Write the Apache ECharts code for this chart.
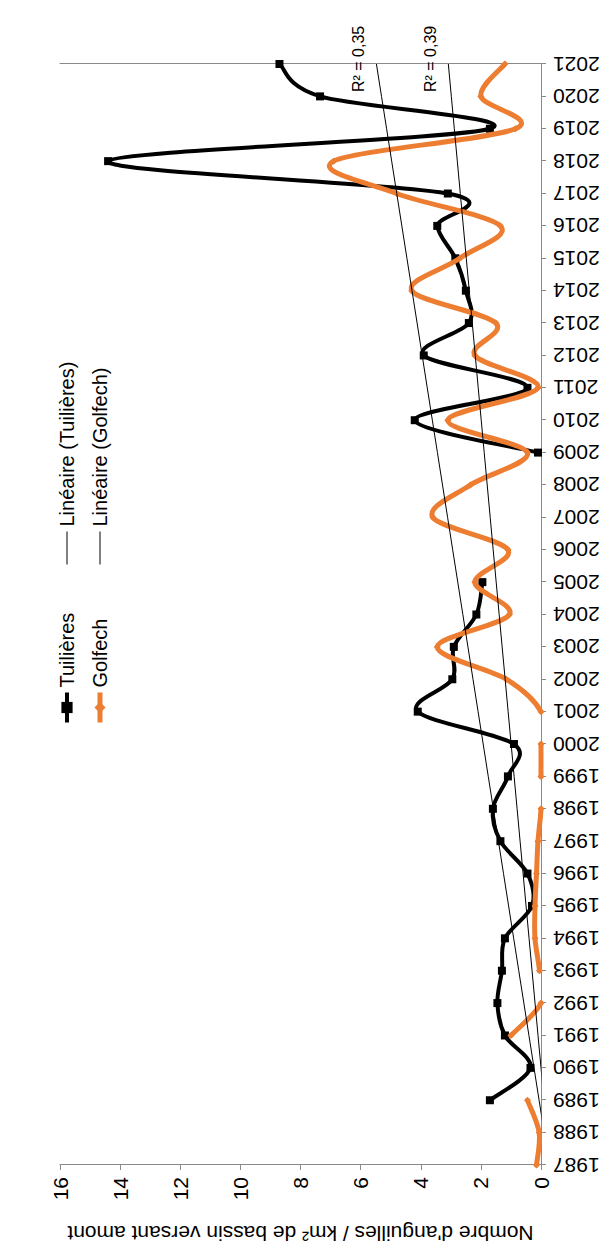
<!DOCTYPE html>
<html>
<head>
<meta charset="utf-8">
<script src="https://cdn.jsdelivr.net/npm/echarts@6/dist/echarts.min.js"></script>
<style>
  html, body { margin: 0; padding: 0; background: #fff; overflow: hidden; }
  #wrap { position: absolute; left: 0; top: 0; width: 606px; height: 1254px; overflow: hidden; }
  #chart {
    position: absolute; left: 0; top: 0;
    width: 1254px; height: 606px;
    transform-origin: 0 0;
    transform: translate(0, 1254px) rotate(-90deg);
  }
</style>
</head>
<body>
<div id="wrap"><div id="chart"></div></div>
<script>
// ---- data ----
const years = ['1987','1988','1989','1990','1991','1992','1993','1994','1995','1996','1997','1998','1999','2000','2001','2002','2003','2004','2005','2006','2007','2008','2009','2010','2011','2012','2013','2014','2015','2016','2017','2018','2019','2020','2021'];
const tuilieres = [null,null,1.7,0.35,1.2,1.45,1.3,1.2,0.3,0.45,1.35,1.6,1.1,0.9,4.1,2.95,2.9,2.15,1.95,null,null,null,0.1,4.2,0.45,3.9,2.4,2.5,2.85,3.45,3.1,14.4,1.7,7.35,8.7];
const golfech = [0.15,0.06,0.45,null,1.0,0,0.05,0.2,0.2,0.15,0.1,0,0,0,0,1.15,3.45,1.05,2.2,1.1,3.6,2.35,0.45,3.1,0.1,2.2,1.5,4.3,2.7,1.35,4.8,6.9,0.85,2.0,1.2];
const seriesNames = ['Tuilières','Golfech'];
const trendNames = ['Linéaire (Tuilières)','Linéaire (Golfech)'];
const r2Labels = ['R² = 0,35','R² = 0,39'];
const valueMin = 0, valueMax = 16, valueStep = 2;
const axisTitle = "Nombre d'anguilles / km² de bassin versant amont";

// linear regression over the category index (as a spreadsheet trendline does)
function linearTrend(vals) {
  const pts = [];
  vals.forEach((v, i) => { if (v !== null) pts.push([i + 1, v]); });
  const n = pts.length;
  const mx = pts.reduce((s, p) => s + p[0], 0) / n;
  const my = pts.reduce((s, p) => s + p[1], 0) / n;
  let sxy = 0, sxx = 0;
  pts.forEach(p => { sxy += (p[0] - mx) * (p[1] - my); sxx += (p[0] - mx) * (p[0] - mx); });
  const b = sxy / sxx, a = my - b * mx;
  return vals.map((_, i) => +(a + b * (i + 1)).toFixed(4));
}
const trendT = linearTrend(tuilieres);
const trendG = linearTrend(golfech);

const FONT = "'Liberation Sans', Arial, sans-serif";
const AXIS_COLOR = '#8a8a8a';
const ORANGE = '#ED7D31';

// Spreadsheet-style smoothed line: cubic Bezier per segment (Catmull-Rom, 1/6 tangents),
// positioned through the chart's own scales; a segment leaving the value range is not drawn.
function smoothCurveSeries(vals, color, width, z) {
  const n = vals.length;
  const ok = k => k >= 0 && k < n && vals[k] !== null;
  return {
    type: 'custom', name: '_curve_' + color, coordinateSystem: 'cartesian2d',
    silent: true, z: z, itemStyle: { color: color },
    data: vals.map((v, i) => [i, v === null ? '-' : v]),
    encode: { x: 0, y: 1 },
    renderItem: function (params, api) {
      const i = params.dataIndex;
      if (!ok(i) || !ok(i + 1)) return null;
      const a = ok(i - 1) ? i - 1 : i;
      const d = ok(i + 2) ? i + 2 : i + 1;
      const y1 = vals[i], y2 = vals[i + 1];
      const c1 = y1 + (y2 - vals[a]) / 6;
      const c2 = y2 - (vals[d] - y1) / 6;
      for (let s = 0; s <= 60; s++) {
        const t = s / 60, u = 1 - t;
        const y = u * u * u * y1 + 3 * u * u * t * c1 + 3 * u * t * t * c2 + t * t * t * y2;
        if (y < valueMin - 1e-9 || y > valueMax + 1e-9) return null;
      }
      const P0 = api.coord([a, vals[a]]);
      const P1 = api.coord([i, y1]);
      const P2 = api.coord([i + 1, y2]);
      const P3 = api.coord([d, vals[d]]);
      return {
        type: 'bezierCurve',
        shape: {
          x1: P1[0], y1: P1[1], x2: P2[0], y2: P2[1],
          cpx1: P1[0] + (P2[0] - P0[0]) / 6, cpy1: P1[1] + (P2[1] - P0[1]) / 6,
          cpx2: P2[0] - (P3[0] - P1[0]) / 6, cpy2: P2[1] - (P3[1] - P1[1]) / 6
        },
        style: { stroke: color, lineWidth: width, fill: 'none', lineCap: 'round', lineJoin: 'round' }
      };
    }
  };
}

function markerSeries(name, vals, symbol, size, color, width, z) {
  return {
    name: name, type: 'line', data: vals, connectNulls: false,
    symbol: symbol, symbolSize: size, showSymbol: true, showAllSymbol: true,
    lineStyle: { color: color, width: width, opacity: 0 }, itemStyle: { color: color },
    emphasis: { disabled: true }, z: z
  };
}

function trendSeries(name, data, label, dy) {
  return {
    name: name, type: 'line', data: data, symbol: 'none', smooth: false,
    lineStyle: { color: '#000', width: 1 }, itemStyle: { color: '#000' },
    emphasis: { disabled: true }, silent: true, z: 8,
    endLabel: {
      show: true, formatter: () => label, distance: 0, offset: [-28, dy],
      align: 'left', verticalAlign: 'middle',
      fontSize: 16, fontFamily: FONT, color: '#000'
    }
  };
}

const chart = echarts.init(document.getElementById('chart'), null, { renderer: 'svg', width: 1254, height: 606 });

chart.setOption({
  animation: false,
  backgroundColor: '#fff',
  textStyle: { fontFamily: FONT },
  grid: { left: 89, right: 64, top: 60, bottom: 65, containLabel: false },
  legend: [
    {
      orient: 'vertical', left: 524, top: 52, itemWidth: 30, itemHeight: 14, itemGap: 13,
      selectedMode: false,
      data: [
        { name: seriesNames[0], lineStyle: { opacity: 1, width: 4, color: '#000' } },
        { name: seriesNames[1], lineStyle: { opacity: 1, width: 5, color: ORANGE } }
      ],
      textStyle: { fontSize: 20, lineHeight: 20, color: '#000', fontFamily: FONT }
    },
    {
      orient: 'vertical', left: 684, top: 52, itemWidth: 33, itemHeight: 14, itemGap: 13,
      selectedMode: false,
      data: [
        { name: trendNames[0], itemStyle: { opacity: 0 }, lineStyle: { width: 1, color: '#000' } },
        { name: trendNames[1], itemStyle: { opacity: 0 }, lineStyle: { width: 1, color: '#000' } }
      ],
      textStyle: { fontSize: 20, lineHeight: 20, color: '#000', fontFamily: FONT }
    }
  ],
  xAxis: {
    type: 'category', data: years, boundaryGap: false,
    axisLine: { show: true, lineStyle: { color: AXIS_COLOR, width: 1 } },
    axisTick: { show: true, length: 5, lineStyle: { color: AXIS_COLOR } },
    axisLabel: { interval: 0, rotate: 90, margin: 12, fontSize: 21, color: '#000', fontFamily: FONT },
    splitLine: { show: false }
  },
  yAxis: [
    {
      type: 'value', min: valueMin, max: valueMax, interval: valueStep,
      axisLine: { show: true, lineStyle: { color: AXIS_COLOR, width: 1 } },
      axisTick: { show: true, length: 5, lineStyle: { color: AXIS_COLOR } },
      axisLabel: { margin: 12, fontSize: 21, color: '#000', fontFamily: FONT },
      splitLine: { show: false },
      name: axisTitle, nameLocation: 'middle', nameRotate: 90, nameGap: 58,
      nameTextStyle: { fontSize: 21, color: '#000', fontFamily: FONT }
    },
    {
      type: 'value', min: valueMin, max: valueMax, interval: valueStep, position: 'right',
      axisLine: { show: true, onZero: false, lineStyle: { color: AXIS_COLOR, width: 1 } },
      axisTick: { show: false }, axisLabel: { show: false }, splitLine: { show: false }
    }
  ],
  series: [
    smoothCurveSeries(tuilieres, '#000', 4, 2),
    markerSeries(seriesNames[0], tuilieres, 'rect', 8, '#000', 4, 3),
    smoothCurveSeries(golfech, ORANGE, 5, 4),
    markerSeries(seriesNames[1], golfech, 'diamond', 7, ORANGE, 5, 5),
    trendSeries(trendNames[0], trendT, r2Labels[0], -18),
    trendSeries(trendNames[1], trendG, r2Labels[1], -18)
  ]
});
</script>
</body>
</html>
